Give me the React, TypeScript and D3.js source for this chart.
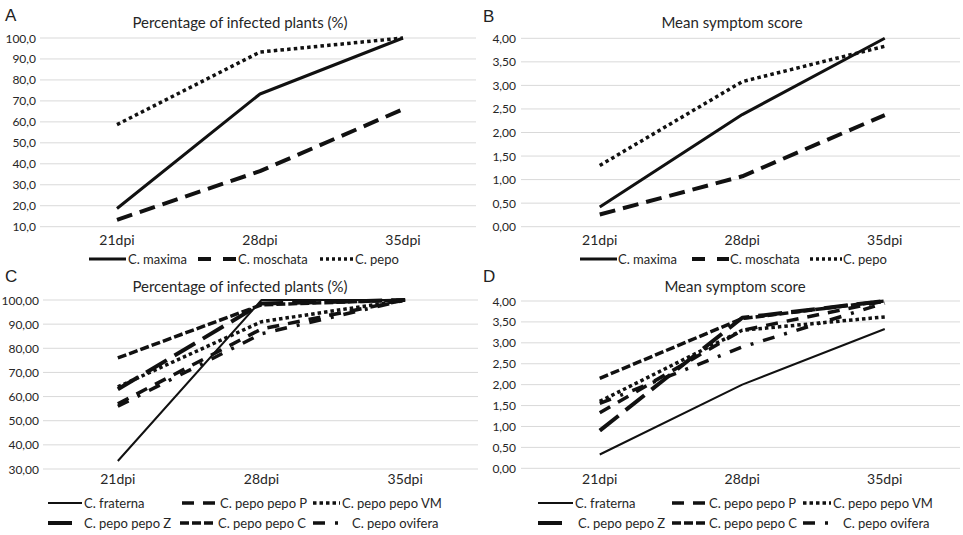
import React from "react";
import * as d3 from "d3";

// ---------- data ----------
const categories = ["21dpi", "28dpi", "35dpi"];

const speciesAB = ["C. maxima", "C. moschata", "C. pepo"];
const infectedMaxima = [18.7, 73.3, 100];
const infectedMoschata = [13.3, 36.5, 66.0];
const infectedPepo = [58.7, 93.3, 100];
const scoreMaxima = [0.42, 2.38, 4.0];
const scoreMoschata = [0.26, 1.07, 2.37];
const scorePepo = [1.3, 3.08, 3.83];

const cultivarsCD = [
  "C. fraterna",
  "C. pepo pepo P",
  "C. pepo pepo VM",
  "C. pepo pepo Z",
  "C. pepo pepo C",
  "C. pepo ovifera",
];
const infectedFraterna = [33.3, 100, 100];
const infectedP = [57.0, 88.0, 100];
const infectedVM = [64.0, 91.0, 100];
const infectedZ = [63.0, 98.5, 100];
const infectedC = [76.0, 98.0, 100];
const infectedOvifera = [56.0, 86.0, 100];
const scoreFraterna = [0.33, 2.0, 3.33];
const scoreP = [1.33, 3.3, 4.0];
const scoreVM = [1.6, 3.3, 3.62];
const scoreZ = [0.9, 3.6, 4.0];
const scoreC = [2.15, 3.58, 4.0];
const scoreOvifera = [1.55, 2.9, 3.95];

const ticksA = [10, 20, 30, 40, 50, 60, 70, 80, 90, 100];
const ticksC = [30, 40, 50, 60, 70, 80, 90, 100];
const ticksScore = [0, 0.5, 1, 1.5, 2, 2.5, 3, 3.5, 4];

const titleInfected = "Percentage of infected plants (%)";
const titleScore = "Mean symptom score";

// ---------- styles ----------
const FONT = "Lato, 'Open Sans', sans-serif";
const TEXT = "#262626";
const GRID = "#d9d9d9";

type Style = { w: number; dash?: string };
const stylesAB: Style[] = [
  { w: 3 },
  { w: 4, dash: "16 8" },
  { w: 3.5, dash: "3.5 3.2" },
];
const stylesCD: Style[] = [
  { w: 2 },
  { w: 3.5, dash: "12 9" },
  { w: 3.5, dash: "3.5 3" },
  { w: 4, dash: "24 9" },
  { w: 3.5, dash: "9 3" },
  { w: 3.5, dash: "12 10 3 10" },
];
const legendStylesAB: (string | undefined)[] = [undefined, "13 12", "3 3"];

type LegendItem = { x0: number; x1: number; y: number; tx: number };

type PanelProps = {
  letter: string;
  letterX: number;
  letterY: number;
  title: string;
  titleX: number;
  titleY: number;
  gridX: [number, number];
  xRange: [number, number];
  yDomain: [number, number];
  yRange: [number, number];
  ticks: number[];
  decimals: number;
  tickLabelX: number;
  xLabelY: number;
  names: string[];
  values: number[][];
  styles: Style[];
  legendDash?: (string | undefined)[];
  legend: LegendItem[];
};

const fmt = (v: number, n: number) => v.toFixed(n).replace(".", ",");

function Panel(p: PanelProps) {
  const x = d3.scalePoint<string>().domain(categories).range(p.xRange).padding(0.5);
  const y = d3.scaleLinear().domain(p.yDomain).range(p.yRange);
  const line = d3
    .line<number>()
    .x((_, i) => x(categories[i]) as number)
    .y((d) => y(d));
  return (
    <g>
      <text x={p.letterX} y={p.letterY} fontFamily="'Liberation Sans', Arial, sans-serif" fontSize={17} fill="#222">
        {p.letter}
      </text>
      <text x={p.titleX} y={p.titleY} textAnchor="middle" fontFamily={FONT} fontSize={15} fill={TEXT}>
        {p.title}
      </text>
      {p.ticks.map((t) => (
        <g key={t}>
          <line x1={p.gridX[0]} x2={p.gridX[1]} y1={y(t)} y2={y(t)} stroke={GRID} strokeWidth={1} />
          <text x={p.tickLabelX} y={y(t) + 4.5} textAnchor="end" fontFamily={FONT} fontSize={12} fill={TEXT}>
            {fmt(t, p.decimals)}
          </text>
        </g>
      ))}
      {categories.map((c) => (
        <text key={c} x={x(c)} y={p.xLabelY} textAnchor="middle" fontFamily={FONT} fontSize={14} fill={TEXT}>
          {c}
        </text>
      ))}
      {p.values.map((vals, i) => (
        <path
          key={i}
          d={line(vals) || ""}
          fill="none"
          stroke="#111"
          strokeWidth={p.styles[i].w}
          strokeDasharray={p.styles[i].dash}
          strokeLinejoin="round"
        />
      ))}
      {p.names.map((n, i) => {
        const L = p.legend[i];
        const dash = p.legendDash ? p.legendDash[i] : p.styles[i].dash;
        return (
          <g key={n}>
            <line
              x1={L.x0}
              x2={L.x1}
              y1={L.y}
              y2={L.y}
              stroke="#111"
              strokeWidth={p.styles[i].w}
              strokeDasharray={dash}
            />
            <text x={L.tx} y={L.y + 4.5} fontFamily={FONT} fontSize={13} fill={TEXT}>
              {n}
            </text>
          </g>
        );
      })}
    </g>
  );
}

export default function App() {
  return (
    <svg
      width={963}
      height={535}
      style={{ position: "absolute", left: 0, top: 0, background: "#fff" }}
    >
      <rect width={963} height={535} fill="#fff" />
      <Panel
        letter="A"
        letterX={5}
        letterY={21}
        title={titleInfected}
        titleX={240}
        titleY={28}
        gridX={[40, 476]}
        xRange={[45.5, 474.5]}
        yDomain={[10, 100]}
        yRange={[226.7, 38]}
        ticks={ticksA}
        decimals={1}
        tickLabelX={36}
        xLabelY={245}
        names={speciesAB}
        values={[infectedMaxima, infectedMoschata, infectedPepo]}
        styles={stylesAB}
        legendDash={legendStylesAB}
        legend={[
          { x0: 89, x1: 126, y: 259, tx: 128 },
          { x0: 198, x1: 237, y: 259, tx: 238 },
          { x0: 320, x1: 353, y: 259, tx: 355 },
        ]}
      />
      <Panel
        letter="B"
        letterX={483}
        letterY={22}
        title={titleScore}
        titleX={732}
        titleY={28}
        gridX={[521, 960]}
        xRange={[528.5, 956]}
        yDomain={[0, 4]}
        yRange={[226.7, 38.3]}
        ticks={ticksScore}
        decimals={2}
        tickLabelX={516}
        xLabelY={245}
        names={speciesAB}
        values={[scoreMaxima, scoreMoschata, scorePepo]}
        styles={stylesAB}
        legendDash={legendStylesAB}
        legend={[
          { x0: 580, x1: 617, y: 259, tx: 618 },
          { x0: 692, x1: 729, y: 259, tx: 730 },
          { x0: 810, x1: 842, y: 259, tx: 843 },
        ]}
      />
      <Panel
        letter="C"
        letterX={5}
        letterY={282}
        title={titleInfected}
        titleX={240}
        titleY={292}
        gridX={[43, 478]}
        xRange={[46, 477]}
        yDomain={[30, 100]}
        yRange={[469, 300]}
        ticks={ticksC}
        decimals={2}
        tickLabelX={39}
        xLabelY={484}
        names={cultivarsCD}
        values={[infectedFraterna, infectedP, infectedVM, infectedZ, infectedC, infectedOvifera]}
        styles={stylesCD}
        legend={[
          { x0: 48, x1: 82, y: 503, tx: 84 },
          { x0: 182, x1: 218, y: 503, tx: 220 },
          { x0: 313, x1: 340, y: 503, tx: 342 },
          { x0: 48, x1: 73, y: 523, tx: 84 },
          { x0: 180, x1: 216, y: 523, tx: 218 },
          { x0: 313, x1: 340, y: 523, tx: 352 },
        ]}
      />
      <Panel
        letter="D"
        letterX={483}
        letterY={282}
        title={titleScore}
        titleX={735}
        titleY={292}
        gridX={[521, 960]}
        xRange={[528.5, 956]}
        yDomain={[0, 4]}
        yRange={[468.3, 301]}
        ticks={ticksScore}
        decimals={2}
        tickLabelX={516}
        xLabelY={484}
        names={cultivarsCD}
        values={[scoreFraterna, scoreP, scoreVM, scoreZ, scoreC, scoreOvifera]}
        styles={stylesCD}
        legend={[
          { x0: 538, x1: 573, y: 503, tx: 575 },
          { x0: 672, x1: 707, y: 503, tx: 709 },
          { x0: 803, x1: 831, y: 503, tx: 833 },
          { x0: 538, x1: 563, y: 523, tx: 578 },
          { x0: 672, x1: 707, y: 523, tx: 709 },
          { x0: 803, x1: 831, y: 523, tx: 843 },
        ]}
      />
    </svg>
  );
}
